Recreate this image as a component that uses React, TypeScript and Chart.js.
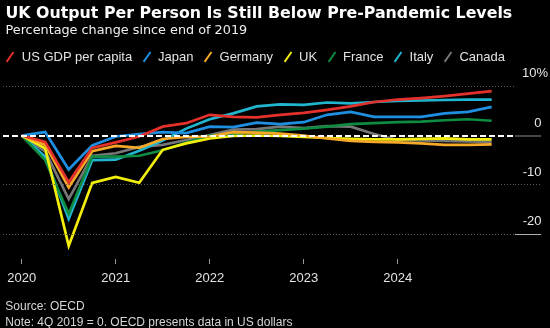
import React, { useEffect, useRef } from 'react';
import { Chart, registerables } from 'chart.js';

Chart.register(...registerables);

// Quarters (data is indexed to 4Q 2019 = 0), plotted at the end of each quarter
const quarters = [
  '2019 Q4', '2020 Q1', '2020 Q2', '2020 Q3', '2020 Q4',
  '2021 Q1', '2021 Q2', '2021 Q3', '2021 Q4',
  '2022 Q1', '2022 Q2', '2022 Q3', '2022 Q4',
  '2023 Q1', '2023 Q2', '2023 Q3', '2023 Q4',
  '2024 Q1', '2024 Q2', '2024 Q3', '2024 Q4',
];

const usGdpPerCapita = [0, -1.3, -9.5, -2.5, -1.4, -0.2, 1.8, 2.5, 4.2, 3.8, 3.7, 4.2, 4.6, 5.2, 5.9, 6.8, 7.3, 7.6, 8.0, 8.5, 9.0];
const japan = [0, 0.7, -6.9, -2.0, -0.2, 0.3, 0.7, 0.5, 1.8, 1.7, 2.6, 2.3, 2.7, 4.2, 4.8, 3.8, 3.8, 3.8, 4.5, 4.8, 5.8];
const germany = [0, -1.9, -10.5, -3.2, -2.1, -2.5, -0.7, -0.3, -0.2, 0.7, 0.6, 0.4, 0.0, -0.6, -1.1, -1.3, -1.4, -1.6, -1.9, -1.9, -1.8];
const uk = [0, -2.6, -22.4, -9.6, -8.4, -9.6, -2.9, -1.6, -0.6, -0.1, 0.0, -0.1, -0.3, -0.5, -0.7, -0.8, -0.8, -0.7, -0.6, -0.8, -0.8];
const france = [0, -5.0, -15.9, -4.3, -4.3, -4.1, -3.0, -1.4, 0.0, 0.3, 0.8, 1.1, 1.4, 1.8, 2.3, 2.5, 2.7, 2.8, 3.1, 3.3, 3.0];
const italy = [0, -4.3, -16.9, -5.0, -4.9, -3.1, -1.0, 1.4, 3.3, 4.5, 5.9, 6.3, 6.2, 6.7, 6.5, 6.8, 7.0, 7.1, 7.2, 7.3, 7.3];
const canada = [0, -3.2, -12.9, -4.1, -3.6, -2.3, -1.9, -0.9, 0.1, 1.2, 1.3, 1.8, 1.5, 1.9, 1.8, 0.3, -0.9, -1.0, -1.1, -1.2, -1.3];

const seriesNames = ['US GDP per capita', 'Japan', 'Germany', 'UK', 'France', 'Italy', 'Canada'];
const seriesValues = [usGdpPerCapita, japan, germany, uk, france, italy, canada];
const seriesColors = ['#e3312b', '#1f8fe2', '#f6a828', '#f4ee0c', '#0e8c42', '#22b5d0', '#767676'];

const xTickYears = [2020, 2021, 2022, 2023, 2024];
const xTickLabels = ['2020', '2021', '2022', '2023', '2024'];
const yTickValues = [10, 0, -10, -20];
const yTickLabels = ['10%', '0', '-10', '-20'];

const titleText = 'UK Output Per Person Is Still Below Pre-Pandemic Levels';
const subtitleText = 'Percentage change since end of 2019';
const sourceText = 'Source: OECD';
const noteText = 'Note: 4Q 2019 = 0. OECD presents data in US dollars';

// quarter end as fractional year
const quarterEnds = quarters.map((q) => {
  const [y, qq] = q.split(' Q');
  return Number(y) + Number(qq) / 4;
});

const FONT_ARIAL = '"Liberation Sans", Arial, sans-serif';
const FONT_DEJAVU = '"DejaVu Sans", Verdana, sans-serif';

export default function App() {
  const canvasRef = useRef<HTMLCanvasElement | null>(null);

  useEffect(() => {
    document.body.style.margin = '0';
    document.body.style.background = '#000';
    const canvas = canvasRef.current;
    if (!canvas) return;
    const chart = new Chart(canvas, {
      type: 'line',
      data: {
        datasets: seriesValues.map((vals, si) => ({
          label: seriesNames[si],
          data: vals.map((v, i) => ({ x: quarterEnds[i], y: v })),
          borderColor: seriesColors[si],
          backgroundColor: seriesColors[si],
          borderWidth: 2.7,
          pointRadius: 0,
          pointHoverRadius: 0,
          tension: 0,
          fill: false,
          borderJoinStyle: 'miter' as const,
        })),
      },
      options: {
        responsive: false,
        animation: false,
        devicePixelRatio: 1,
        layout: { padding: { left: 3, right: 2, top: 70, bottom: 0 } },
        plugins: {
          legend: { display: false },
          tooltip: { enabled: false },
        },
        events: [],
        scales: {
          x: {
            type: 'linear',
            min: 2019.801,
            max: 2025.248,
            afterBuildTicks: (s: any) => {
              s.ticks = xTickYears.map((v) => ({ value: v }));
            },
            afterFit: (s: any) => {
              s.height = 69;
            },
            grid: {
              drawOnChartArea: false,
              drawTicks: true,
              tickLength: 5,
              tickColor: '#9a9a9a',
              tickWidth: 1,
            },
            border: { display: false },
            ticks: {
              autoSkip: false,
              maxRotation: 0,
              padding: 7,
              color: '#e2e2e2',
              font: { family: FONT_ARIAL, size: 13 },
              callback: (v: any) => xTickLabels[xTickYears.indexOf(Number(v))] ?? '',
            },
          },
          y: {
            type: 'linear',
            position: 'right',
            min: -25.05,
            max: 13.29,
            afterBuildTicks: (s: any) => {
              s.ticks = yTickValues.map((v) => ({ value: v }));
            },
            afterFit: (s: any) => {
              s.width = 33;
            },
            grid: {
              z: 1,
              color: (c: any) => (c.tick && c.tick.value === 0 ? '#ffffff' : '#5c5c5c'),
              lineWidth: (c: any) => (c.tick && c.tick.value === 0 ? 2 : 1),
              drawTicks: true,
              tickLength: 26,
              tickWidth: 1,
              tickColor: (c: any) => {
                const v = c.tick ? c.tick.value : null;
                if (v === 10) return 'rgba(0,0,0,0)';
                if (v === 0) return '#8c8c8c';
                if (v === -20) return '#b0b0b0';
                return '#5c5c5c';
              },
              tickBorderDash: (c: any) => (c.tick && c.tick.value === -10 ? [1, 2] : []),
            },
            border: {
              display: false,
              dash: (c: any) => (c.tick && c.tick.value === 0 ? [6, 3] : [1, 2]),
            },
            ticks: {
              crossAlign: 'far',
              labelOffset: -12.5,
              padding: 0,
              color: '#e6e6e6',
              font: { family: FONT_ARIAL, size: 13 },
              callback: (v: any) => {
                const t = yTickLabels[yTickValues.indexOf(Number(v))] ?? '';
                return t.endsWith('%') ? t : t + '\u2002';
              },
            },
          },
        },
      } as any,
    });
    return () => chart.destroy();
  }, []);

  return (
    <div
      style={{
        position: 'absolute',
        left: 0,
        top: 0,
        width: 550,
        height: 328,
        background: '#000',
        overflow: 'hidden',
      }}
    >
      <canvas ref={canvasRef} width={550} height={328} style={{ position: 'absolute', left: 0, top: 0 }} />
      <div
        style={{
          position: 'absolute',
          left: 5.5,
          top: 4.9,
          fontFamily: FONT_DEJAVU,
          fontWeight: 'bold',
          fontSize: 15.8,
          lineHeight: '15.8px',
          color: '#ffffff',
          whiteSpace: 'nowrap',
        }}
      >
        {titleText}
      </div>
      <div
        style={{
          position: 'absolute',
          left: 5.5,
          top: 24.2,
          fontFamily: FONT_DEJAVU,
          fontSize: 12.8,
          lineHeight: '12.8px',
          color: '#f0f0f0',
          whiteSpace: 'nowrap',
        }}
      >
        {subtitleText}
      </div>
      <div
        style={{
          position: 'absolute',
          left: 5.8,
          top: 50,
          display: 'flex',
          alignItems: 'center',
          fontFamily: FONT_ARIAL,
          fontSize: 13,
          lineHeight: '13px',
          color: '#e2e2e2',
          whiteSpace: 'nowrap',
        }}
      >
        {seriesNames.map((name, i) => (
          <div key={name} style={{ display: 'flex', alignItems: 'center', marginRight: 10 }}>
            <span style={{ display: 'inline-block', width: 16, height: 13, position: 'relative' }}>
              <span
                style={{
                  position: 'absolute',
                  left: 3.5,
                  top: 0.5,
                  width: 2.4,
                  height: 12,
                  background: seriesColors[i],
                  transform: 'rotate(35deg)',
                }}
              />
            </span>
            <span>{name}</span>
          </div>
        ))}
      </div>
      <div
        style={{
          position: 'absolute',
          left: 5.3,
          top: 299.4,
          fontFamily: FONT_ARIAL,
          fontSize: 12,
          lineHeight: '15.3px',
          color: '#d6d6d6',
          whiteSpace: 'nowrap',
        }}
      >
        <div>{sourceText}</div>
        <div>{noteText}</div>
      </div>
    </div>
  );
}
